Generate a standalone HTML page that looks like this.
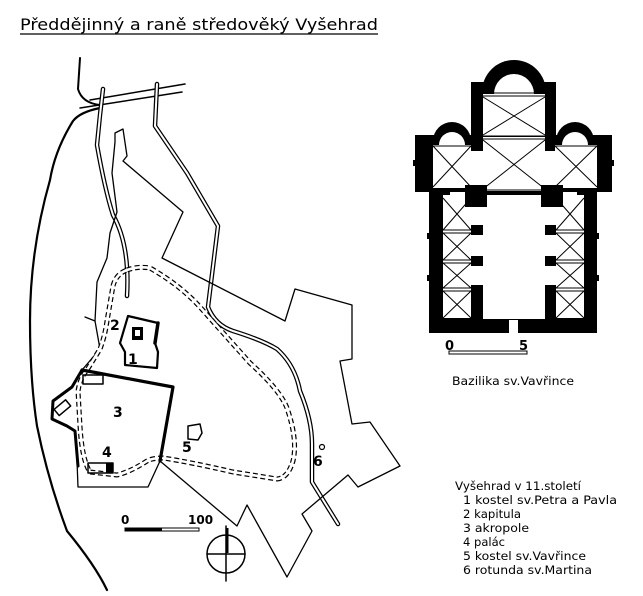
<!DOCTYPE html>
<html><head><meta charset="utf-8"><style>
html,body{margin:0;padding:0;background:#fff;}
svg{display:block;}
text{font-family:"DejaVu Sans","Liberation Sans",sans-serif;}
</style></head><body>
<svg width="643" height="596" viewBox="0 0 643 596" xmlns="http://www.w3.org/2000/svg">
<rect width="643" height="596" fill="#fff"/>
<text x="20" y="30" font-size="16" textLength="358" lengthAdjust="spacingAndGlyphs">Předdějinný a raně středověký Vyšehrad</text>
<line x1="20" y1="34" x2="378" y2="34" stroke="#000" stroke-width="1.3"/>

<g fill="none" stroke="#000" stroke-linejoin="round" stroke-linecap="round">
<path d="M80 58 L78 89 Q82 103 100 105" stroke-width="2"/>
<path d="M100 108 Q80 112 73 121 Q55 150 50 180 Q30 250 30 321 Q30 380 37 426 Q48 480 67 531 Q95 565 107 590" stroke-width="2.2"/>
<path d="M90 100 L185 84 M80 108 L182 92" stroke-width="1.5"/>
<g stroke-width="4.5"><path d="M103 89 L100 115 L97 145 Q105 190 113 215 Q130 245 127 296"/></g>
<g stroke="#fff" stroke-width="2"><path d="M103 89 L100 115 L97 145 Q105 190 113 215 Q130 245 127 296"/></g>
<g stroke-width="4.5"><path d="M157 84 L155 126 L187 173 L218 226 L208 307 Q215 325 233 331 Q262 340 277 349 Q295 365 300 391 Q312 420 312 444 L312 482 L338 524"/></g>
<g stroke="#fff" stroke-width="2"><path d="M157 84 L155 126 L187 173 L218 226 L208 307 Q215 325 233 331 Q262 340 277 349 Q295 365 300 391 Q312 420 312 444 L312 482 L338 524"/></g>
<path d="M160 461 L237 526 L247 505 L287 577 L312 531 L302 514 L348 475 L358 487 L400 466 L370 422 L352 424 L340 361 L352 359 L352 305 L295 289 L285 321 L162 258 L183 212 L123 161 L127 156 L123 129 L115 133 L115 142 L112 173 L117 212 L110 233 L107 258 L97 282 L95 321 L85 317" stroke-width="1.3"/>
<path d="M95 321 L100 349 L82 370" stroke-width="1.3"/>
<path d="M160 461 L148 487 L78 487 L77 461" stroke-width="1.3"/>
<path d="M127 270 Q138 266 150 268 Q180 285 200 307 L250 363 Q280 390 287 408 Q298 440 293 461 Q288 478 277 479 L233 472 Q190 462 163 458 Q152 458 147 461 Q130 472 117 475 L90 472 Q82 460 80 426 L78 391 Q80 378 87 370 L100 349 Q105 336 107 321 L113 286 Q116 274 127 270 Z" stroke-width="5" stroke-dasharray="5 3" stroke-linecap="butt"/>
<path d="M127 270 Q138 266 150 268 Q180 285 200 307 L250 363 Q280 390 287 408 Q298 440 293 461 Q288 478 277 479 L233 472 Q190 462 163 458 Q152 458 147 461 Q130 472 117 475 L90 472 Q82 460 80 426 L78 391 Q80 378 87 370 L100 349 Q105 336 107 321 L113 286 Q116 274 127 270 Z" stroke="#fff" stroke-width="2.6"/>
<path d="M82 370 L173 387 L160 461" stroke-width="3.2"/>
<path d="M82 370 L72 387 L53 401 L52 419 L67 426 L75 431 L78 466" stroke-width="3"/>
<rect x="83" y="375" width="20" height="9" stroke-width="1.5"/>
<rect x="55" y="404" width="15" height="8" stroke-width="1.5" transform="rotate(-40 62 408)"/>
<rect x="88" y="463" width="25" height="10" stroke-width="1.5"/>
<path d="M128 316 L158 323 L155 343 L158 352 L157 368 L125 365 L125 352 L120 343 Z" stroke-width="2.2"/>
<path d="M158 323 L155 343" stroke-width="3.5"/>
<path d="M188 426 L200 424 L202 433 L198 440 L188 439 Z" stroke-width="1.5"/>
<circle cx="322" cy="447" r="2.5" stroke-width="1.2"/>
<circle cx="226" cy="554" r="19" stroke-width="1.5"/>
<path d="M226 526 L226 581 M207 554 L245 554" stroke-width="1.5"/>
</g>
<rect x="132" y="327" width="11" height="13" fill="#000"/>
<rect x="135" y="330" width="5" height="6" fill="#fff"/>
<rect x="106" y="463" width="7" height="10" fill="#000"/>
<line x1="227" y1="528" x2="227" y2="553" stroke="#000" stroke-width="3"/>
<rect x="125" y="528" width="74" height="3" fill="none" stroke="#000" stroke-width="1"/>
<rect x="125" y="528" width="37" height="3" fill="#000"/>
<g font-weight="bold" font-size="14" font-family="Liberation Sans,sans-serif">
<text x="110" y="330">2</text><text x="128" y="364">1</text><text x="113" y="417">3</text>
<text x="102" y="457">4</text><text x="182" y="452">5</text><text x="313" y="466">6</text>
<text x="121" y="524" font-size="12">0</text><text x="188" y="524" font-size="12">100</text>
</g>

<g fill="#000">
<circle cx="514" cy="92" r="32"/>
<rect x="471" y="82" width="85" height="251"/>
<rect x="415" y="135" width="197" height="57"/>
<circle cx="452" cy="141" r="19"/>
<circle cx="575" cy="141" r="19"/>
<rect x="429" y="185" width="168" height="148"/>
<rect x="413" y="160" width="3" height="6"/><rect x="611" y="160" width="3" height="6"/>
<rect x="427" y="233" width="3" height="6"/><rect x="427" y="275" width="3" height="6"/>
<rect x="596" y="233" width="3" height="6"/><rect x="596" y="275" width="3" height="6"/>
</g>
<g fill="#fff">
<circle cx="514" cy="94" r="20"/>
<rect x="483" y="94" width="62" height="42"/>
<rect x="483" y="137" width="62" height="54"/>
<circle cx="452" cy="145" r="13"/>
<circle cx="575" cy="145" r="13"/>
<rect x="433" y="145" width="38" height="43"/>
<rect x="555" y="145" width="42" height="43"/>
<rect x="483" y="195" width="62" height="124"/>
<rect x="443" y="195" width="28" height="123"/>
<rect x="556" y="195" width="28" height="123"/>
<rect x="471" y="151" width="12" height="144"/>
<rect x="545" y="151" width="11" height="144"/>
<rect x="509" y="320" width="9" height="13"/>
<rect x="450" y="192" width="15" height="6"/>
<rect x="562" y="192" width="15" height="6"/>
</g>
<g fill="#000">
<rect x="465" y="185" width="22" height="22"/><rect x="541" y="185" width="22" height="22"/>
<rect x="471" y="225" width="12" height="10"/><rect x="471" y="256" width="12" height="10"/><rect x="471" y="285" width="12" height="11"/>
<rect x="545" y="225" width="11" height="10"/><rect x="545" y="256" width="11" height="10"/><rect x="545" y="285" width="11" height="11"/>
</g>
<g stroke="#000" stroke-width="1" fill="none">
<path d="M483 93 L545 93 M483 96 L545 96 M483 136 L545 136 M483 139 L545 139 M483 190 L545 190 M483 194 L545 194"/>
<path d="M483 97 L545 135 M545 97 L483 135 M483 140 L545 189 M545 140 L483 189"/>
<path d="M433 146 L471 187 M471 146 L433 187 M555 146 L597 187 M597 146 L555 187 M433 146 L471 146 M555 146 L597 146"/>
<path d="M443 230 L471 230 M443 233 L471 233 M443 260 L471 260 M443 263 L471 263 M443 288 L471 288 M443 291 L471 291"/>
<path d="M443 198 L471 230 M471 198 L443 230 M443 233 L471 260 M471 233 L443 260 M443 263 L471 288 M471 263 L443 288 M443 291 L471 318 M471 291 L443 318"/>
<path d="M556 230 L584 230 M556 233 L584 233 M556 260 L584 260 M556 263 L584 263 M556 288 L584 288 M556 291 L584 291"/>
<path d="M556 198 L584 230 M584 198 L556 230 M556 233 L584 260 M584 233 L556 260 M556 263 L584 288 M584 263 L556 288 M556 291 L584 318 M584 291 L556 318"/>
</g>
<text x="445" y="350" font-size="13" font-weight="bold" font-family="Liberation Sans,sans-serif">0</text>
<text x="519" y="350" font-size="13" font-weight="bold" font-family="Liberation Sans,sans-serif">5</text>
<rect x="449" y="351" width="78" height="3" fill="none" stroke="#000" stroke-width="1"/>
<text x="452" y="385" font-size="11.5" textLength="122" lengthAdjust="spacingAndGlyphs">Bazilika sv.Vavřince</text>

<g font-size="11.5">
<text x="455" y="490" textLength="126" lengthAdjust="spacingAndGlyphs">Vyšehrad v 11.století</text>
<text x="463" y="504" textLength="154" lengthAdjust="spacingAndGlyphs">1 kostel sv.Petra a Pavla</text>
<text x="463" y="518" textLength="58" lengthAdjust="spacingAndGlyphs">2 kapitula</text>
<text x="463" y="532" textLength="66" lengthAdjust="spacingAndGlyphs">3 akropole</text>
<text x="463" y="546" textLength="42" lengthAdjust="spacingAndGlyphs">4 palác</text>
<text x="463" y="560" textLength="123" lengthAdjust="spacingAndGlyphs">5 kostel sv.Vavřince</text>
<text x="463" y="574" textLength="129" lengthAdjust="spacingAndGlyphs">6 rotunda sv.Martina</text>
</g>
</svg>
</body></html>
